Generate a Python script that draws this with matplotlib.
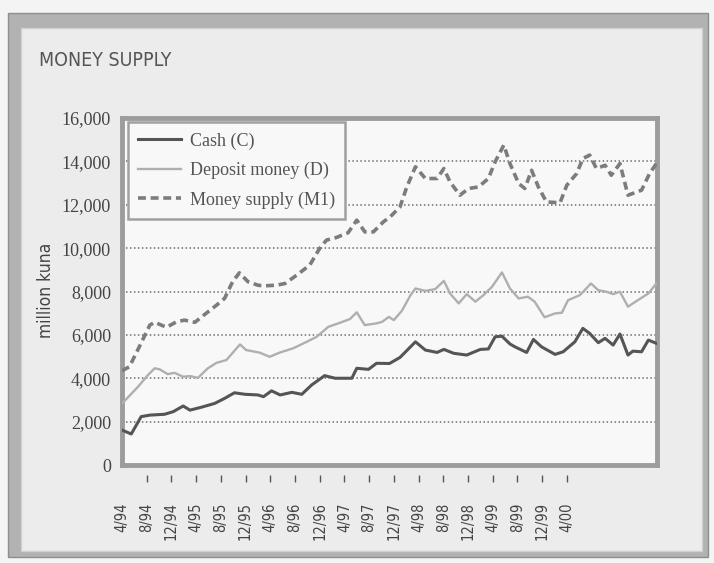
import matplotlib.pyplot as plt
from matplotlib.patches import Rectangle

# months after April 1994, values in million kuna
cash_m = [0, 1.5, 3.1, 4.5, 6.9, 8.3, 9.9, 11, 12.8, 15, 16.6, 18.2, 19.9, 22, 22.9,
          24.2, 25.6, 27.5, 29.1, 30.7, 32.8, 34.5, 37.2, 38, 39.9, 41.2, 43.3, 45,
          47.5, 49.1, 51, 52.1, 53.7, 55.8, 58, 59.3, 60.4, 61.5, 62.8, 63.6, 65.5,
          66.6, 67.9, 70.1, 71.4, 73.3, 74.6, 75.7, 77.1, 78.2, 79.5, 80.6, 81.9,
          82.7, 84.1, 85.2, 86.5]
cash_v = [1610, 1430, 2230, 2300, 2340, 2460, 2720, 2530, 2660, 2840, 3070, 3330, 3260,
          3230, 3150, 3420, 3230, 3350, 3260, 3690, 4120, 4000, 4000, 4460, 4410, 4690,
          4680, 4960, 5680, 5300, 5190, 5330, 5150, 5070, 5330, 5350, 5910, 5940, 5580,
          5450, 5190, 5790, 5450, 5100, 5220, 5680, 6300, 6070, 5640, 5840, 5530, 6040,
          5070, 5250, 5220, 5760, 5610]

dep_m = [0, 0.8, 2.6, 4.2, 5.3, 6.1, 7.4, 8.5, 9.9, 11, 12.3, 13.9, 15.3, 16.9, 19.1,
         20.1, 22.3, 23.9, 25.6, 27.7, 29.9, 31.5, 33.4, 35.3, 36.9, 38, 39.3, 41.2,
         42.1, 43.2, 44, 45.3, 46.7, 47.5, 49.1, 50.7, 52.1, 53.1, 54.5, 55.8, 57.2,
         58.5, 59.9, 61.5, 62.8, 64.2, 65.7, 66.8, 68.4, 70.1, 71.2, 72.2, 74.1, 74.9,
         75.9, 77.1, 78.4, 79.5, 80.6, 81.9, 83.5, 85.2, 86.5]
dep_v = [2840, 3070, 3610, 4150, 4460, 4410, 4190, 4250, 4070, 4100, 4020, 4460, 4710,
         4840, 5560, 5300, 5180, 4990, 5190, 5380, 5680, 5910, 6370, 6560, 6730, 7040,
         6450, 6530, 6600, 6830, 6680, 7110, 7830, 8140, 8030, 8110, 8490, 7910, 7450,
         7880, 7530, 7830, 8220, 8880, 8140, 7680, 7760, 7530, 6810, 6990, 7020, 7600,
         7830, 8060, 8370, 8060, 7990, 7880, 7990, 7300, 7600, 7910, 8370]

m1_m = [0, 1.2, 2.8, 4.5, 5.3, 7.2, 8.8, 10.1, 11.8, 13.6, 15.3, 16.6, 17.9, 19.0, 20.4,
        22, 22.9, 25.0, 26.4, 28.3, 30.4, 32.0, 33.1, 34.7, 36.6, 38.0, 39.3, 40.7,
        42.3, 43.4, 45, 46.1, 47.5, 49.1, 51.0, 52.1, 53.1, 54.7, 56.1, 57.7, 59.3,
        60.4, 61.8, 62.8, 64.2, 65.2, 66.3, 67.4, 68.7, 70.9, 72.0, 73.6, 74.6, 75.7,
        76.8, 78.2, 79.2, 80.6, 81.9, 84.1, 85.4, 86.5]
m1_v = [4350, 4530, 5450, 6450, 6580, 6350, 6600, 6680, 6580, 6990, 7370, 7680, 8450,
        8860, 8450, 8290, 8260, 8290, 8370, 8760, 9220, 9990, 10370, 10490, 10710, 11290,
        10750, 10750, 11210, 11440, 11900, 12820, 13750, 13210, 13210, 13670, 13050,
        12440, 12750, 12820, 13210, 13980, 14750, 13900, 12980, 12750, 13590, 12820,
        12130, 12090, 12900, 13440, 14130, 14290, 13670, 13820, 13360, 13900, 12440,
        12670, 13440, 13900]

tick_months = list(range(0, 73, 4))
tick_labels = ["4/94", "8/94", "12/94", "4/95", "8/95", "12/95", "4/96", "8/96", "12/96",
               "4/97", "8/97", "12/97", "4/98", "8/98", "12/98", "4/99", "8/99", "12/99",
               "4/00"]
y_ticks = list(range(0, 16001, 2000))

serif = ["Liberation Serif", "DejaVu Serif"]
narrow = ["DejaVu Sans"]

fig = plt.figure(figsize=(7.14, 5.63), dpi=100)
fig.patch.set_facecolor("#f4f4f4")

# scanned page frame: grey band around a light panel
fig.patches.append(Rectangle((8 / 714, 1 - 557 / 563), 700 / 714, 544 / 563,
                             transform=fig.transFigure, facecolor="#b2b2b2",
                             edgecolor="#8e8e8e", lw=1, zorder=-6))
fig.patches.append(Rectangle((21 / 714, 1 - 551 / 563), 681 / 714, 523 / 563,
                             transform=fig.transFigure, facecolor="#ececec",
                             edgecolor="#d0d0d0", lw=1, zorder=-5))

ax = fig.add_axes([122 / 714, 1 - 465 / 563, 535 / 714, 347 / 563])
ax.set_zorder(2)
ax.set_facecolor("#f8f8f8")

ax.plot(cash_m, cash_v, color="#555555", lw=2.2, label="Cash (C)", zorder=4)
ax.plot(dep_m, dep_v, color="#afafaf", lw=1.7, label="Deposit money (D)", zorder=3)
ax.plot(m1_m, m1_v, color="#7c7c7c", lw=2.6, dashes=(2.2, 1.3),
        label="Money supply (M1)", zorder=3)

ax.set_xlim(0, 86.6)
ax.set_ylim(0, 16000)

for y in y_ticks[1:-1]:
    ax.axhline(y, color="#6e6e6e", lw=1.1, ls=(0, (1, 1.6)), zorder=1)

ax.set_yticks(y_ticks)
ax.set_yticklabels([f"{v:,}" for v in y_ticks], fontfamily=serif, fontsize=13,
                   color="#444444")
ax.tick_params(axis="y", length=0, pad=8)

ax.set_xticks(tick_months)
ax.set_xticklabels(tick_labels, rotation=90, fontfamily=narrow, fontstretch="condensed",
                   fontsize=10.5, color="#444444")
ax.tick_params(axis="x", length=0, pad=27)

sec = ax.secondary_xaxis(-0.029)
sec.set_xticks(tick_months[1:])
sec.set_xticklabels([])
sec.tick_params(direction="out", length=5, width=1, color="#555555")
sec.spines["bottom"].set_visible(False)

for spine in ax.spines.values():
    spine.set_color("#9c9c9c")
    spine.set_linewidth(3.5)

leg = ax.legend(loc="upper left", bbox_to_anchor=(0.011, 0.989), borderaxespad=0,
                prop={"family": serif, "size": 13}, handlelength=2.35,
                handletextpad=0.5, labelspacing=0.68, borderpad=0.58,
                fancybox=False, framealpha=1)
leg.get_frame().set_edgecolor("#a0a0a0")
leg.get_frame().set_linewidth(1.8)
leg.get_frame().set_facecolor("#f8f8f8")
for t in leg.get_texts():
    t.set_color("#555555")

fig.text(39 / 714, 1 - 60 / 563, "MONEY SUPPLY", fontfamily=narrow, fontstretch="condensed",
         fontsize=14, color="#555555", ha="left", va="center")
fig.text(46 / 714, 1 - 290 / 563, "million kuna", fontfamily=narrow, fontstretch="condensed",
         fontsize=12.5, color="#444444", rotation=90, ha="center", va="center")

fig.savefig("out.png", dpi=100, facecolor=fig.get_facecolor())
